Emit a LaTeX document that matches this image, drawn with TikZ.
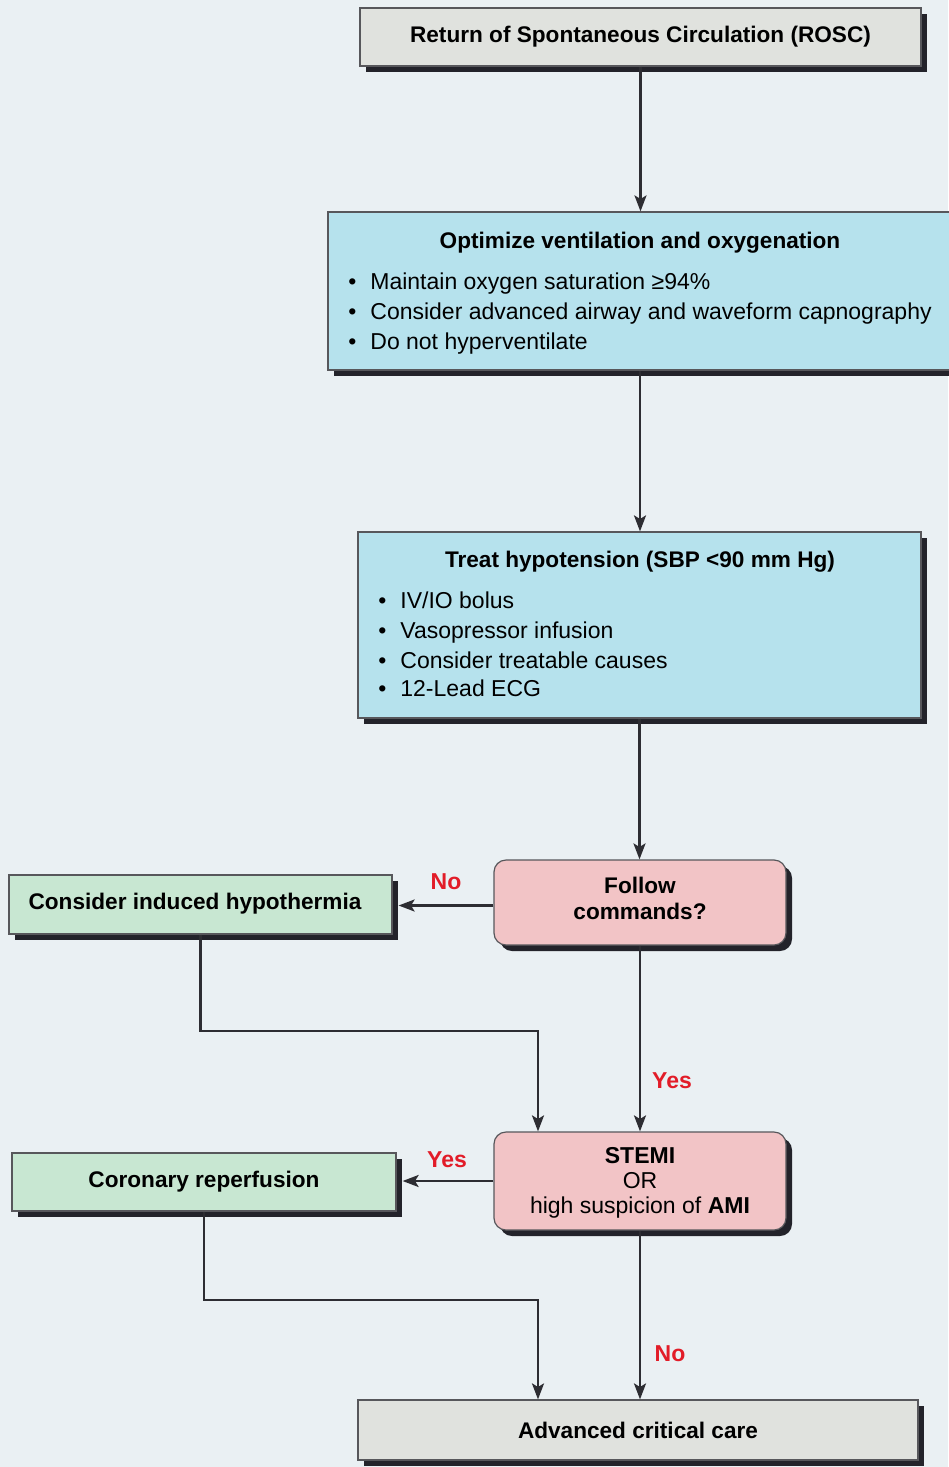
\documentclass[tikz,border=0pt]{standalone}
\usepackage{fontspec}
\setmainfont{Liberation Sans}
\usetikzlibrary{arrows.meta,shadows,calc}
\definecolor{bg}{RGB}{234,240,243}
\definecolor{grayfill}{RGB}{224,226,222}
\definecolor{bluefill}{RGB}{182,226,237}
\definecolor{pinkfill}{RGB}{242,196,198}
\definecolor{greenfill}{RGB}{200,231,210}
\definecolor{shadowc}{RGB}{35,35,42}
\definecolor{labred}{RGB}{226,28,40}
\definecolor{linec}{RGB}{45,45,50}
\begin{document}
\begin{tikzpicture}[x=0.5pt,y=-0.5pt,
  box/.style={draw=linec!80, line width=0.6pt, inner sep=0pt, align=center,
    font=\fontsize{11.3}{13}\selectfont\bfseries,
    drop shadow={shadow xshift=3pt,shadow yshift=-3pt,fill=shadowc,opacity=1}},
  rbox/.style={box, rounded corners=6pt},
  ttl/.style={font=\fontsize{11.3}{13}\selectfont\bfseries, inner sep=0pt, align=center},
  blt/.style={font=\fontsize{11.5}{13}\selectfont, inner sep=0pt, anchor=mid west},
  arr/.style={draw=linec, line width=1.2pt, -{Stealth[length=8pt,width=6pt,inset=1.8pt]}},
  lab/.style={font=\fontsize{11.5}{12}\selectfont\bfseries, text=labred, inner sep=0pt}]
\path[use as bounding box, fill=bg] (0,0) rectangle (948,1467);

% boxes
\node[box, fill=grayfill, minimum width=280.5pt, minimum height=29pt] (rosc) at (640.5,37) {Return of Spontaneous Circulation (ROSC)};
\node[box, fill=bluefill, minimum width=312pt, minimum height=79pt] (opt) at (640,291) {};
\node[box, fill=bluefill, minimum width=281.5pt, minimum height=93pt] (hyp) at (639.5,625) {};
\node[rbox, fill=pinkfill, minimum width=146pt, minimum height=42.5pt] (follow) at (640,902.5) {};
\node[box, fill=greenfill, minimum width=191.5pt, minimum height=29.5pt] (hypo) at (200.5,904.5) {};
\node[rbox, fill=pinkfill, minimum width=146pt, minimum height=49pt] (stemi) at (640,1181) {};
\node[box, fill=greenfill, minimum width=192pt, minimum height=29pt] (cor) at (204,1182) {Coronary reperfusion};
\node[box, fill=grayfill, minimum width=280pt, minimum height=30pt] (adv) at (638,1430) {Advanced critical care};

% box contents
\node[ttl] (optt) at (640,243) {Optimize ventilation and oxygenation};
\node[blt] (ob1) at (348,284) {•};
\node[blt] (ob1t) at (370,284) {Maintain oxygen saturation ≥94\%};
\node[blt] (ob2) at (348,314) {•};
\node[blt] (ob2t) at (370,314) {Consider advanced airway and waveform capnography};
\node[blt] (ob3) at (348,344) {•};
\node[blt] (ob3t) at (370,344) {Do not hyperventilate};

\node[ttl] (hypt) at (640,562) {Treat hypotension (SBP <90 mm Hg)};
\node[blt] (hb1) at (378,603) {•};
\node[blt] (hb1t) at (400,603) {IV/IO bolus};
\node[blt] (hb2) at (378,633) {•};
\node[blt] (hb2t) at (400,633) {Vasopressor infusion};
\node[blt] (hb3) at (378,663) {•};
\node[blt] (hb3t) at (400,663) {Consider treatable causes};
\node[blt] (hb4) at (378,691) {•};
\node[blt] (hb4t) at (400,691) {12-Lead ECG};

\node[ttl] (followt) at (640,898) {Follow\\commands?};
\node[ttl] (hypot) at (195,904) {Consider induced hypothermia};
\node[ttl, font=\fontsize{11.5}{12.6}\selectfont] (stemit) at (640,1183) {\textbf{STEMI}\\OR\\high suspicion of \textbf{AMI}};

% junctions
\coordinate (j1) at (538,1031);
\coordinate (j2) at (538,1300);

% connectors
\draw[arr] (rosc.south) -- (rosc.south |- opt.north);
\draw[arr] (opt.south) -- (opt.south |- hyp.north);
\draw[arr] (hyp.south) -- (hyp.south |- follow.north);
\draw[arr] ([yshift=-1.5pt]follow.west) -- ([xshift=3pt,yshift=-1.5pt]hypo.east |- follow.west);
\draw[arr] (follow.south) -- (follow.south |- stemi.north);
\draw[arr] (hypo.south) |- (j1) -- (j1 |- stemi.north);
\draw[arr] (stemi.west) -- ([xshift=3pt]cor.east |- stemi.west);
\draw[arr] (stemi.south) -- (stemi.south |- adv.north);
\draw[arr] (cor.south) |- (j2) -- (j2 |- adv.north);

% labels
\node[lab] (lno1) at (446,882) {No};
\node[lab] (lyes1) at (672,1081) {Yes};
\node[lab] (lyes2) at (447,1160) {Yes};
\node[lab] (lno2) at (670,1354) {No};
\end{tikzpicture}
\end{document}
